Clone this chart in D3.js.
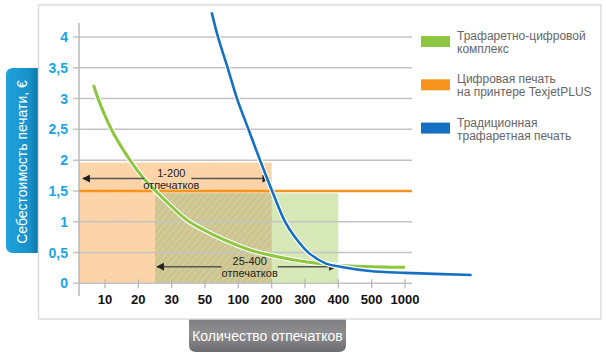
<!DOCTYPE html>
<html><head><meta charset="utf-8">
<script src="https://cdn.jsdelivr.net/npm/d3@7"></script>
<style>
html,body{margin:0;padding:0;background:#fff;}
svg{display:block;font-family:"Liberation Sans",Arial,Helvetica,sans-serif;}
</style></head>
<body>
<script>
// ---- data ----
const xTickLabels = ["10","20","30","50","100","200","300","400","500","1000"];
const xTickValues = [10,20,30,50,100,200,300,400,500,1000];
const yTickValues = [0,0.5,1,1.5,2,2.5,3,3.5,4];
const yTickLabels = ["0","0,5","1","1,5","2","2,5","3","3,5","4"];
const seriesNames = [
  ["Трафаретно-цифровой","комплекс"],
  ["Цифровая печать","на принтере TexjetPLUS"],
  ["Традиционная","трафаретная печать"]
];
const seriesColors = ["#8dc63f","#f7941d","#1570c1"];
// green: screen+digital complex  [count, cost]
const greenSeries = [[6,3.22],[8,2.95],[12,2.49],[17.5,2.0],[21.5,1.71],[25,1.51],[28,1.35],[39,1.03],[49,0.87],[80,0.70],[135,0.54],[210,0.44],[300,0.35],[400,0.29],[1000,0.26]];
// orange: digital printing — flat cost
const orangeValue = 1.5;
// blue: traditional screen printing
const blueSeries = [[60,4.40],[69.5,4.0],[84,3.5],[98,3.0],[130.5,2.5],[165,2.0],[184.5,1.73],[202,1.49],[240,1.0],[268.5,0.76],[312,0.49],[363,0.32],[405,0.27],[495,0.20],[1000,0.17],[2000,0.135]];
// ranges
const rangeA = {from:1, to:200, top:1.96, label:["1-200","отпечатков"]};
const rangeB = {from:25, to:400, top:1.46, label:["25-400","отпечатков"]};
const yTitle = "Себестоимость печати, €";
const xTitle = "Количество отпечатков";

// ---- layout ----
const W=606,H=356;
const axisLeft=79, axisRight=412;
const svg=d3.select("body").append("svg").attr("width",W).attr("height",H);
const defs=svg.append("defs");

const xp=d3.scalePoint().domain(xTickLabels).range([105,405]);
const x=d3.scaleLinear().domain([1].concat(xTickValues)).range([axisLeft].concat(xTickLabels.map(l=>xp(l))));
const y=d3.scaleLinear().domain([0,4]).range([283.3,37]);

// gradients / patterns
const gy=defs.append("linearGradient").attr("id","gy").attr("x1",0).attr("x2",1).attr("y1",0).attr("y2",0);
gy.append("stop").attr("offset",0).attr("stop-color","#20a3dd");
gy.append("stop").attr("offset",0.7).attr("stop-color","#1790c9");
gy.append("stop").attr("offset",1).attr("stop-color","#0b6f9d");
const gx=defs.append("linearGradient").attr("id","gx").attr("x1",0).attr("x2",0).attr("y1",0).attr("y2",1);
gx.append("stop").attr("offset",0).attr("stop-color","#7c7c7e");
gx.append("stop").attr("offset",0.5).attr("stop-color","#8e8e90");
gx.append("stop").attr("offset",1).attr("stop-color","#6c6c6e");
const pat=defs.append("pattern").attr("id","hatch").attr("patternUnits","userSpaceOnUse")
  .attr("width",5).attr("height",5).attr("patternTransform","rotate(40)");
pat.append("line").attr("x1",0).attr("y1",0).attr("x2",0).attr("y2",5)
  .attr("stroke","#fff").attr("stroke-width",1.2).attr("stroke-opacity",0.16);

// y title box
svg.append("path")
  .attr("d",`M40,68 L13,68 Q6,68 6,75 L6,246 Q6,253 13,253 L40,253 Z`)
  .attr("fill","url(#gy)");
svg.append("text").attr("transform","translate(27,162) rotate(-90)")
  .attr("text-anchor","middle").attr("fill","#fff").attr("font-size",14).text(yTitle);

// x title box
svg.append("path")
  .attr("d",`M189,316 L346,316 L346,345 Q346,352 339,352 L196,352 Q189,352 189,345 Z`)
  .attr("fill","url(#gx)");
svg.append("text").attr("x",267.5).attr("y",341).attr("text-anchor","middle")
  .attr("fill","#fff").attr("font-size",14).text(xTitle);

// panel
svg.append("rect").attr("x",38.5).attr("y",4.5).attr("width",562.5).attr("height",314.5)
  .attr("fill","#fff").attr("stroke","#dedede").attr("stroke-width",1.5);
svg.append("line").attr("x1",38).attr("x2",601).attr("y1",5).attr("y2",5).attr("stroke","#e4e4e4").attr("stroke-width",2);

// range rects
function rangeRect(r,fill){
  svg.append("rect").attr("x",x(r.from)).attr("y",y(r.top)).attr("width",x(r.to)-x(r.from)).attr("height",y(0)-y(r.top)).attr("fill",fill);
}
rangeRect(rangeA,"#fcd3a7");
rangeRect(rangeB,"#d5e8b6");
const ov={from:Math.max(rangeA.from,rangeB.from),to:Math.min(rangeA.to,rangeB.to),top:Math.min(rangeA.top,rangeB.top)};
rangeRect(ov,"#cdc58f");
[rangeA,rangeB].forEach(r=>{
  svg.append("rect").attr("x",x(r.from)).attr("y",y(r.top)).attr("width",x(r.to)-x(r.from)).attr("height",y(0)-y(r.top)).attr("fill","url(#hatch)");
});

// gridlines
svg.append("g").selectAll("line").data(yTickValues).join("line")
  .attr("x1",73).attr("x2",axisRight).attr("y1",d=>y(d)).attr("y2",d=>y(d))
  .attr("stroke","#c3c3c3").attr("stroke-width",1.5);
// y axis line
svg.append("line").attr("x1",axisLeft).attr("x2",axisLeft).attr("y1",23).attr("y2",296).attr("stroke","#b8b8b8").attr("stroke-width",1.5);
// x ticks
svg.append("g").selectAll("line").data(xTickLabels).join("line")
  .attr("x1",d=>xp(d)).attr("x2",d=>xp(d)).attr("y1",y(0)-4).attr("y2",y(0)+5)
  .attr("stroke","#b8b8b8").attr("stroke-width",1.3);
// tick labels
svg.append("g").selectAll("text").data(yTickValues).join("text")
  .attr("x",68).attr("y",d=>y(d)+5).attr("text-anchor","end")
  .attr("fill","#1ba3e6").attr("font-weight","bold").attr("font-size",14)
  .text((d,i)=>yTickLabels[i]);
svg.append("g").selectAll("text").data(xTickLabels).join("text")
  .attr("x",d=>xp(d)).attr("y",304).attr("text-anchor","middle")
  .attr("fill","#111").attr("font-weight","bold").attr("font-size",13).text(d=>d);

// orange flat line
svg.append("line").attr("x1",axisLeft).attr("x2",axisRight).attr("y1",y(orangeValue)).attr("y2",y(orangeValue))
  .attr("stroke",seriesColors[1]).attr("stroke-width",2.5);

// arrows
defs.append("marker").attr("id","ah").attr("viewBox","0 0 10 10").attr("refX",9).attr("refY",5)
  .attr("markerWidth",8).attr("markerHeight",8).attr("markerUnits","userSpaceOnUse").attr("orient","auto-start-reverse")
  .append("path").attr("d","M0,0 L10,5 L0,10 Z").attr("fill","#222");
function annot(r,ly,cx,gapL,gapR,x1,x2){
  svg.append("line").attr("x1",x1).attr("x2",cx-gapL).attr("y1",ly).attr("y2",ly)
    .attr("stroke","#555").attr("stroke-width",1.5).attr("marker-start","url(#ah)");
  svg.append("line").attr("x1",cx+gapR).attr("x2",x2).attr("y1",ly).attr("y2",ly)
    .attr("stroke","#555").attr("stroke-width",1.5).attr("marker-end","url(#ah)");
  svg.append("text").attr("x",cx).attr("y",ly-1.5).attr("text-anchor","middle").attr("font-size",11).attr("fill","#222").text(r.label[0]);
  svg.append("text").attr("x",cx).attr("y",ly+10).attr("text-anchor","middle").attr("font-size",11).attr("fill","#222").text(r.label[1]);
}

// curves
const line=d3.line().x(d=>x(d[0])).y(d=>y(d[1])).curve(d3.curveCatmullRom.alpha(0.5));
function curve(data,color,w){
  svg.append("path").attr("d",line(data)).attr("fill","none").attr("stroke","#fff").attr("stroke-width",w+2.2);
  svg.append("path").attr("d",line(data)).attr("fill","none").attr("stroke",color).attr("stroke-width",w);
}
curve(greenSeries,seriesColors[0],3);
annot(rangeA,y(1.71)+0.5,(x(rangeA.from)+x(rangeA.to))/2-4,27,20,x(rangeA.from)+4,x(rangeA.to)-2);
annot(rangeB,y(0.27),(x(rangeB.from)+x(rangeB.to))/2+3,28,28,x(rangeB.from)+2,x(rangeB.to)-2);
curve(blueSeries,seriesColors[2],2.6);

// legend
const lg=svg.append("g").selectAll("g").data(seriesNames).join("g")
  .attr("transform",(d,i)=>`translate(421,${36+i*43.3})`);
lg.append("rect").attr("width",29).attr("height",11).attr("fill",(d,i)=>seriesColors[i]);
lg.append("text").attr("x",36).attr("y",4).attr("font-size",12).attr("fill","#666").text(d=>d[0]);
lg.append("text").attr("x",36).attr("y",17).attr("font-size",12).attr("fill","#666").text(d=>d[1]);
</script>
</body></html>
